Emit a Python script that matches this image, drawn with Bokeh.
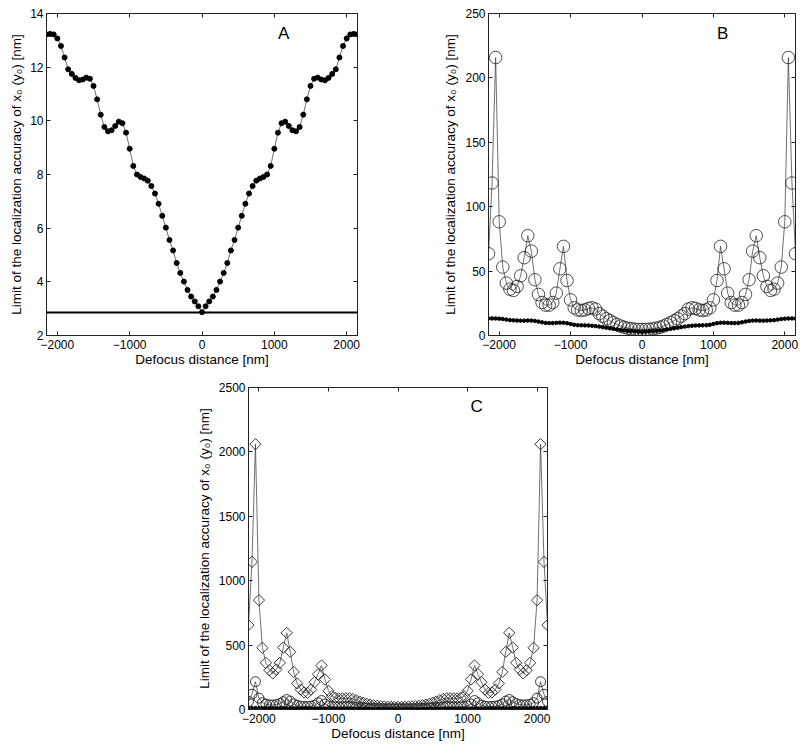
import math
from bokeh.plotting import figure
from bokeh.models import FixedTicker, LinearAxis, Span, Label, Spacer, Range1d
from bokeh.layouts import row, column
from bokeh.embed import file_html
from bokeh.resources import INLINE

# ---------------- data ----------------
defocus_nm = [-2150, -2100, -2050, -2000, -1950, -1900, -1850, -1800, -1750, -1700,
              -1650, -1600, -1550, -1500, -1450, -1400, -1350, -1300, -1250, -1200,
              -1150, -1100, -1050, -1000, -950, -900, -850, -800, -750, -700,
              -650, -600, -550, -500, -450, -400, -350, -300, -250, -200,
              -150, -100, -50, 0, 50, 100, 150, 200, 250, 300,
              350, 400, 450, 500, 550, 600, 650, 700, 750, 800,
              850, 900, 950, 1000, 1050, 1100, 1150, 1200, 1250, 1300,
              1350, 1400, 1450, 1500, 1550, 1600, 1650, 1700, 1750, 1800,
              1850, 1900, 1950, 2000, 2050, 2100, 2150]

# series 1 (filled dots, panel A)
limit_dots = [13.22, 13.24, 13.22, 13.07, 12.79, 12.36, 11.92, 11.75, 11.60, 11.51,
              11.54, 11.61, 11.57, 11.30, 10.80, 10.23, 9.77, 9.61, 9.65, 9.81,
              9.97, 9.91, 9.56, 8.96, 8.32, 8.00, 7.91, 7.85, 7.77, 7.57,
              7.29, 6.91, 6.46, 6.02, 5.56, 5.17, 4.70, 4.33, 4.01, 3.70,
              3.45, 3.27, 3.09, 2.87, 3.09, 3.27, 3.45, 3.70, 4.01, 4.33,
              4.70, 5.17, 5.56, 6.02, 6.46, 6.91, 7.29, 7.57, 7.77, 7.85,
              7.91, 8.00, 8.32, 8.96, 9.56, 9.91, 9.97, 9.81, 9.65, 9.61,
              9.77, 10.23, 10.80, 11.30, 11.57, 11.61, 11.54, 11.51, 11.60, 11.75,
              11.92, 12.36, 12.79, 13.07, 13.22, 13.24, 13.22]

# series 2 (open circles, panels B and C)
limit_circles = [63.5, 118.4, 215.8, 88.3, 53.1, 40.7, 36.0, 35.0, 38.1, 46.4,
                 60.4, 77.5, 65.5, 43.3, 31.9, 25.6, 23.6, 23.6, 25.6, 32.9,
                 51.8, 69.2, 42.7, 27.7, 21.5, 19.9, 19.4, 19.9, 21.0, 21.5,
                 20.5, 17.0, 15.0, 13.0, 11.5, 10.0, 8.5, 7.3, 6.4, 5.7,
                 5.2, 4.9, 4.7, 4.7, 4.7, 4.9, 5.2, 5.7, 6.4, 7.3,
                 8.5, 10.0, 11.5, 13.0, 15.0, 17.0, 20.5, 21.5, 21.0, 19.9,
                 19.4, 19.9, 21.5, 27.7, 42.7, 69.2, 51.8, 32.9, 25.6, 23.6,
                 23.6, 25.6, 31.9, 43.3, 65.5, 77.5, 60.4, 46.4, 38.1, 35.0,
                 36.0, 40.7, 53.1, 88.3, 215.8, 118.4, 63.5]

# series 3 (open diamonds, panel C)
limit_diamonds = [655, 1146, 2060, 849, 479, 362, 305, 280, 311, 362,
                  481, 595, 448, 292, 202, 155, 132, 129, 155, 212,
                  274, 342, 233, 145, 104, 90, 86, 86, 87, 87,
                  82, 72, 62, 53, 45, 38, 33, 29, 26, 24,
                  22, 21, 20, 20, 20, 21, 22, 24, 26, 29,
                  33, 38, 45, 53, 62, 72, 82, 87, 87, 86,
                  86, 90, 104, 145, 233, 342, 274, 212, 155, 129,
                  132, 155, 202, 292, 448, 595, 481, 362, 311, 280,
                  305, 362, 479, 849, 2060, 1146, 655]

detection_limit = 2.86

x_ticks = [-2000, -1000, 0, 1000, 2000]
x_tick_labels = {-2000: "\u22122000", -1000: "\u22121000", 0: "0", 1000: "1000", 2000: "2000"}
yticks_A = [2, 4, 6, 8, 10, 12, 14]
yticks_B = [0, 50, 100, 150, 200, 250]
yticks_C = [0, 500, 1000, 1500, 2000, 2500]

x_label = "Defocus distance [nm]"
y_label = "Limit of the localization accuracy of x\u2080 (y\u2080) [nm]"

FONT = "Liberation Sans"
FRAME = "#222222"


def style_axis(ax, tick_labels=True):
    ax.major_tick_in = 4
    ax.major_tick_out = 0
    ax.minor_tick_line_color = None
    ax.axis_line_color = FRAME
    ax.major_tick_line_color = FRAME
    ax.major_label_text_font = FONT
    ax.major_label_text_color = "black"
    ax.major_label_text_line_height = 1.0
    ax.axis_label_text_font = FONT
    ax.axis_label_text_font_style = "normal"
    ax.axis_label_text_color = "black"
    ax.axis_label_text_font_size = "13.5px"
    ax.axis_label_text_line_height = 1.0
    ax.major_label_text_font_size = "12px"
    if not tick_labels:
        ax.major_label_text_color = None
        ax.major_label_text_font_size = "1px"
        ax.major_label_standoff = 0


def make_fig(ymin, ymax, yticks, fw, fh, bl, br, bt, bb, ylab_standoff):
    p = figure(frame_width=fw, frame_height=fh,
               x_range=Range1d(-2150, 2150), y_range=Range1d(ymin, ymax),
               output_backend="svg", toolbar_location=None,
               min_border_left=bl, min_border_right=br,
               min_border_top=bt, min_border_bottom=bb,
               background_fill_color="white", border_fill_color="white",
               outline_line_color=FRAME, outline_line_width=1)
    p.grid.visible = False
    xa = p.xaxis[0]
    xa.ticker = FixedTicker(ticks=x_ticks)
    xa.major_label_overrides = x_tick_labels
    style_axis(xa)
    xa.major_label_standoff = 4
    xa.axis_label = x_label
    xa.axis_label_standoff = 0
    ya = p.yaxis[0]
    ya.ticker = FixedTicker(ticks=yticks)
    style_axis(ya)
    ya.major_label_standoff = 3
    ya.axis_label = y_label
    ya.axis_label_standoff = ylab_standoff
    top = LinearAxis(ticker=FixedTicker(ticks=x_ticks))
    style_axis(top, tick_labels=False)
    p.add_layout(top, "above")
    right = LinearAxis(ticker=FixedTicker(ticks=yticks))
    style_axis(right, tick_labels=False)
    p.add_layout(right, "right")
    return p


def panel_letter(p, letter, y):
    p.add_layout(Label(x=1130, y=y, text=letter, text_font=FONT, text_font_size="17px",
                       text_align="center", text_baseline="middle", text_color="black"))


LINE_C = "#333333"

# ---------------- Panel A ----------------
pA = make_fig(2, 14, yticks_A, 311, 322, 46, 80, 13, 42, ylab_standoff=3)
pA.line(defocus_nm, limit_dots, line_color=LINE_C, line_width=0.7)
pA.scatter(defocus_nm, limit_dots, size=5, marker="circle", fill_color="black", line_color="black")
pA.add_layout(Span(location=detection_limit, dimension="width", line_color="black", line_width=2))
panel_letter(pA, "A", 13.25)

# ---------------- Panel B ----------------
pB = make_fig(0, 250, yticks_B, 307, 322, 51, 4, 13, 42, ylab_standoff=4)
pB.line(defocus_nm, limit_circles, line_color=LINE_C, line_width=0.7)
pB.scatter(defocus_nm, limit_circles, size=12.5, marker="circle", fill_color=None,
           line_color="#222222", line_width=0.8)
pB.line(defocus_nm, limit_dots, line_color=LINE_C, line_width=0.7)
pB.scatter(defocus_nm, limit_dots, size=3.5, marker="circle", fill_color="black", line_color="black")
panel_letter(pB, "B", 234.7)

# ---------------- Panel C ----------------
pC = make_fig(0, 2500, yticks_C, 299, 322, 57, 4, 10, 35, ylab_standoff=4)
pC.line(defocus_nm, limit_diamonds, line_color=LINE_C, line_width=0.7)
pC.scatter(defocus_nm, limit_diamonds, size=8, marker="square", angle=math.pi / 4,
           fill_color=None, line_color="#222222", line_width=0.9)
pC.line(defocus_nm, limit_circles, line_color=LINE_C, line_width=0.7)
pC.scatter(defocus_nm, limit_circles, size=10, marker="circle", fill_color=None,
           line_color="#222222", line_width=0.9)
pC.line(defocus_nm, limit_dots, line_color=LINE_C, line_width=0.7)
pC.scatter(defocus_nm, limit_dots, size=3, marker="circle", fill_color="black", line_color="black")
panel_letter(pC, "C", 2349)

layout = column(row(pA, pB), row(Spacer(width=191, height=10), pC))

with open("out.html", "w") as f:
    f.write(file_html(layout, INLINE))
